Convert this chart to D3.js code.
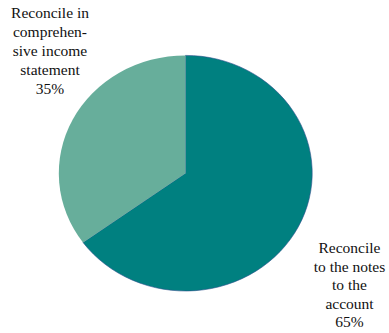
<!DOCTYPE html>
<html><head><meta charset="utf-8">
<script src="https://cdn.jsdelivr.net/npm/d3@7"></script>
<style>html,body{margin:0;padding:0;background:#fff;} text{font-family:"Liberation Serif","DejaVu Serif",serif;}</style>
</head><body>
<script>
const categories = ["Reconcile to the notes to the account", "Reconcile in comprehensive income statement"];
const values = [65, 35];
const labelLines = [
  ["Reconcile", "to the notes", "to the", "account", "65%"],
  ["Reconcile in", "comprehen-", "sive income", "statement", "35%"]
];
const colors = ["#008080", "#67ae9b"];

const W = 389, H = 333;
const cx = 185.5, cy = 173.2, rx = 126.7, ry = 117.8;

const svg = d3.select("body").append("svg").attr("width", W).attr("height", H);

const pie = d3.pie().sort(null).value(d => d);
const arcs = pie(values);
const arc = d3.arc().innerRadius(0).outerRadius(rx);

const g = svg.append("g").attr("transform", `translate(${cx},${cy}) scale(1,${ry/rx})`);
g.selectAll("path").data(arcs).enter().append("path")
  .attr("d", arc)
  .attr("fill", (d, i) => colors[i])
  .attr("stroke", (d, i) => i === 0 ? "#2b4f8c" : "none")
  .attr("stroke-width", 0.6)
  .attr("vector-effect", "non-scaling-stroke");

const labelPos = [{x: 349.5, y: 253.3, dy: 18.4}, {x: 50, y: 18.3, dy: 19}];
labelLines.forEach((lines, i) => {
  const t = svg.append("text")
    .attr("text-anchor", "middle")
    .style("font-size", "15.5px")
    .attr("fill", "#111");
  lines.forEach((s, j) => {
    t.append("tspan").attr("x", labelPos[i].x).attr("y", labelPos[i].y + j * labelPos[i].dy).text(s);
  });
});
</script>
</body></html>
